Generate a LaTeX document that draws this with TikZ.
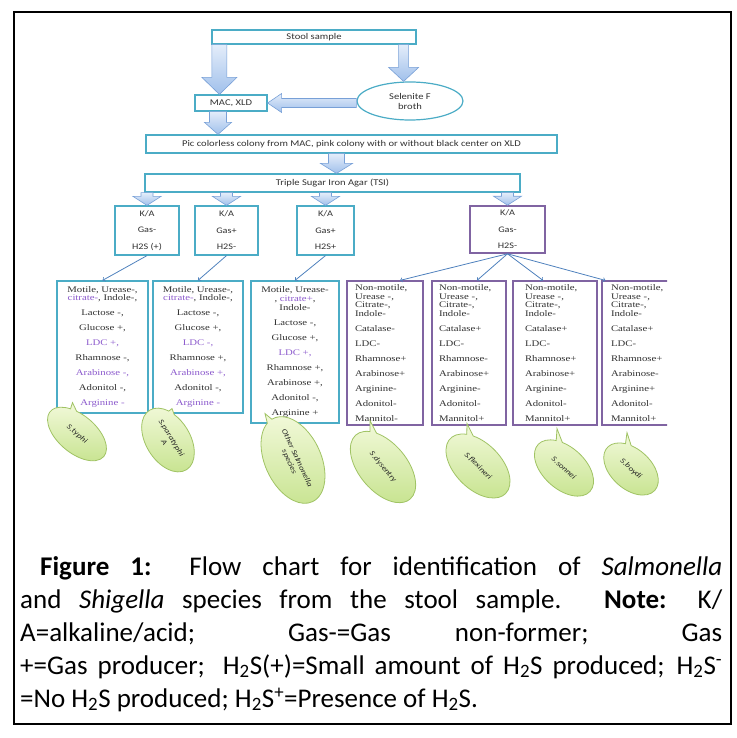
\documentclass[tikz,border=0pt]{standalone}
\usepackage{fontspec}
\setmainfont{Carlito}
\newfontfamily\calibw[FakeStretch=1.2]{Carlito}
\newfontfamily\timesw[FakeStretch=1.25]{Liberation Serif}
\usetikzlibrary{arrows,calc,shapes.geometric,shapes.callouts}

\definecolor{aqua}{RGB}{75,172,198}
\definecolor{violet2}{RGB}{128,100,162}
\definecolor{pur}{RGB}{140,90,205}
\definecolor{txt}{RGB}{50,50,50}
\definecolor{arrowblue}{RGB}{79,129,189}
\definecolor{blockedge}{RGB}{120,160,215}
\definecolor{blocktop}{RGB}{228,237,250}
\definecolor{blockbot}{RGB}{160,192,235}
\definecolor{leafedge}{RGB}{160,195,100}
\definecolor{leaftop}{RGB}{242,249,218}
\definecolor{leafbot}{RGB}{200,228,145}

% fat arrows: shaft half, head half, head length, from, to
\newcommand{\downblock}[5]{%
  \path[block] let \p1=#4, \p2=#5 in
    (\x1-#1pt,\y1) -- (\x1+#1pt,\y1) -- (\x1+#1pt,\y2+#3pt) -- (\x1+#2pt,\y2+#3pt)
    -- (\x1,\y2) -- (\x1-#2pt,\y2+#3pt) -- (\x1-#1pt,\y2+#3pt) -- cycle;}
\newcommand{\leftblock}[5]{%
  \path[block] let \p1=#4, \p2=#5 in
    (\x1,\y1+#1pt) -- (\x1,\y1-#1pt) -- (\x2+#3pt,\y1-#1pt) -- (\x2+#3pt,\y1-#2pt)
    -- (\x2,\y1) -- (\x2+#3pt,\y1+#2pt) -- (\x2+#3pt,\y1+#1pt) -- cycle;}
\newcommand{\nl}{\\[6.4pt]}

\begin{document}
\begin{tikzpicture}
    [
      x=1pt, y=-1pt,
      flowbox/.style={rectangle,draw=aqua,line width=1.2pt,fill=white,inner sep=0pt,align=center,text=txt,font=\calibw\fontsize{8.8}{10}\selectfont},
      flowoval/.style={flowbox,ellipse},
      kabox/.style={flowbox,font=\calibw\fontsize{8.5}{16.5}\selectfont},
      testbox/.style={rectangle,draw=aqua,line width=1.2pt,fill=white,inner xsep=4pt,inner ysep=0pt,align=center,text=txt,font=\timesw\fontsize{8.6}{8.6}\selectfont},
      shigbox/.style={testbox,draw=violet2,align=left,text width=60pt},
      bubble/.style={ellipse callout,draw=leafedge,line width=0.8pt,top color=leaftop,bottom color=leafbot,callout pointer arc=12,inner sep=0pt,align=center,text=black!85,font=\calibw\itshape\fontsize{7.5}{8.5}\selectfont},
      block/.style={draw=blockedge,line width=0.6pt,top color=blocktop,bottom color=blockbot},
      feed/.style={->,>=to,draw=arrowblue,line width=0.8pt},
    ]

    \useasboundingbox (0,0) rectangle (736,738);
    \draw [line width=1.2pt] (14,12) rectangle (731,724);

    \node (stool) [flowbox,minimum width=204pt,minimum height=14pt] at (314,37) {Stool sample};
    \node (mac) [flowbox,minimum width=72pt,minimum height=16pt] at (231,103) {MAC, XLD};
    \node (sel) [flowoval,minimum width=106pt,minimum height=38pt] at (410,101) {Selenite F\\broth};
    \node (pic) [flowbox,minimum width=411pt,minimum height=18pt] at (351.5,144) {Pic colorless colony from MAC, pink colony with or without black center on XLD};
    \node (tsi) [flowbox,minimum width=375pt,minimum height=18pt] at (332.5,183) {Triple Sugar Iron Agar (TSI)};

    \node (ka1) [kabox,minimum width=64pt,minimum height=49pt] at (147,230.5) {K/A\\Gas-\\H2S (+)};
    \node (ka2) [kabox,minimum width=63pt,minimum height=49pt] at (226.5,230.5) {K/A\\Gas+\\H2S-};
    \node (ka3) [kabox,minimum width=57pt,minimum height=49pt] at (325.5,230.5) {K/A\\Gas+\\H2S+};
    \node (ka4) [kabox,draw=violet2,line width=1.6pt,minimum width=75pt,minimum height=47pt] at (507.5,229.5) {K/A\\Gas-\\H2S-};

    \coordinate (s1) at ([xshift=8pt]stool.south west);
    \coordinate (s2) at ([xshift=-13pt]stool.south east);
    \coordinate (m1) at ([xshift=-13pt]mac.south);
    \coordinate (p1) at ([xshift=-15pt]pic.south);
    \downblock{7.5}{17.5}{17}{(s1)}{(s1 |- mac.north)}
    \downblock{5}{15}{14}{(s2)}{(s2 |- sel.north)}
    \leftblock{4.5}{9.5}{14}{(sel.west |- mac.east)}{(mac.east)}
    \downblock{8.5}{13.5}{12}{(m1)}{(m1 |- pic.north)}
    \downblock{8}{16}{10}{(p1)}{(p1 |- tsi.north)}
    \foreach \k in {ka1,ka2,ka3,ka4}
      \downblock{6}{14}{9}{(\k.north |- tsi.south)}{(\k.north)};

    \node (boxA) [testbox,minimum width=91pt,minimum height=132pt] at (102.5,347)
      {Motile, Urease-,\\\textcolor{pur}{citrate-}, Indole-,\nl Lactose -,\nl Glucose +,\nl \textcolor{pur}{LDC +,}\nl Rhamnose -,\nl \textcolor{pur}{Arabinose -,}\nl Adonitol -,\nl \textcolor{pur}{Arginine -}};
    \node (boxB) [testbox,minimum width=90pt,minimum height=132pt] at (198,347)
      {Motile, Urease-,\\\textcolor{pur}{citrate-}, Indole-,\nl Lactose -,\nl Glucose +,\nl \textcolor{pur}{LDC -,}\nl Rhamnose +,\nl \textcolor{pur}{Arabinose +,}\nl Adonitol -,\nl \textcolor{pur}{Arginine -}};
    \node (boxC) [testbox,minimum width=88pt,minimum height=142pt] at (295,352)
      {Motile, Urease-\\, \textcolor{pur}{citrate+},\\Indole-\nl Lactose -,\nl Glucose +,\nl \textcolor{pur}{LDC +,}\nl Rhamnose +,\nl Arabinose +,\nl Adonitol -,\nl Arginine +};
    \node (boxD) [shigbox,minimum width=76pt,minimum height=144pt] at (385,353)
      {Non-motile,\\Urease -,\\Citrate-,\\Indole-\nl Catalase-\nl LDC-\nl Rhamnose+\nl Arabinose+\nl Arginine-\nl Adonitol-\nl Mannitol-};
    \node (boxE) [shigbox,minimum width=74pt,minimum height=144pt] at (469,353)
      {Non-motile,\\Urease -,\\Citrate-,\\Indole-\nl Catalase+\nl LDC-\nl Rhamnose-\nl Arabinose+\nl Arginine-\nl Adonitol-\nl Mannitol+};
    \node (boxF) [shigbox,minimum width=84pt,minimum height=144pt] at (555,353)
      {Non-motile,\\Urease -,\\Citrate-,\\Indole-\nl Catalase+\nl LDC-\nl Rhamnose+\nl Arabinose+\nl Arginine-\nl Adonitol-\nl Mannitol+};
    \begin{scope}
      \clip (590,270) rectangle (667,440);
      \node (boxG) [shigbox,minimum width=78pt,minimum height=144pt] at (641,353)
        {Non-motile,\\Urease -,\\Citrate-,\\Indole-\nl Catalase+\nl LDC-\nl Rhamnose+\nl Arabinose-\nl Arginine+\nl Adonitol-\nl Mannitol+};
    \end{scope}

    \path
    (ka1.south) edge [feed] (boxA.north)
    (ka2.south) edge [feed] (boxB.north)
    (ka3.south) edge [feed] (boxC.north)
    (ka4.south) edge [feed] ([xshift=15pt]boxD.north)
    (ka4.south) edge [feed] ([xshift=8pt]boxE.north)
    (ka4.south) edge [feed] ([xshift=-12pt]boxF.north)
    (ka4.south) edge [feed] ([xshift=4pt]boxG.north west)
    ;

    \node (typhi) [bubble,callout absolute pointer={($(boxA.south)+(-30,-11)$)},minimum width=70pt,minimum height=38pt,rotate=-40] at (77,434) {S.typhi};
    \node (paratyphi) [bubble,callout absolute pointer={($(boxB.south)+(-26,-5)$)},minimum width=70pt,minimum height=44pt,rotate=-58] at (168,440) {S.paratyphi\\A};
    \node (othersal) [bubble,callout absolute pointer={($(boxC.south)+(-30,-10)$)},minimum width=92pt,minimum height=56pt,rotate=-65] at (293,460) {Other Salmonella\\species};
    \node (dysentry) [bubble,callout absolute pointer={($(boxD.south)+(-15,-5)$)},minimum width=84pt,minimum height=48pt,rotate=-50] at (383,467) {S.dysentry};
    \node (flexineri) [bubble,callout absolute pointer={($(boxE.south)+(-2,-2)$)},minimum width=78pt,minimum height=46pt,rotate=-45] at (478,466) {S.flexineri};
    \node (sonnei) [bubble,callout absolute pointer={($(boxF.south)+(2,3)$)},minimum width=70pt,minimum height=42pt,rotate=-42] at (564,468) {S.sonnei};
    \node (boydi) [bubble,callout absolute pointer={($(boxG.south)+(-14,7)$)},minimum width=64pt,minimum height=40pt,rotate=-42] at (631,469) {S.boydi};

    \node (caption) [anchor=north west,text width=702pt,align=justify,inner sep=0pt,font=\fontsize{27}{33}\selectfont] at (20,556)
      {\hspace*{20pt}\textbf{Figure 1:} Flow chart for identification of \textit{Salmonella}\linebreak
       and \textit{Shigella} species from the stool sample. \textbf{Note:} K/\linebreak
       A=alkaline/acid; Gas-=Gas non-former; Gas\linebreak
       +=Gas producer;\hspace{6pt} H\textsubscript{2}S(+)=Small amount of H\textsubscript{2}S produced; H\textsubscript{2}S\textsuperscript{-}\linebreak
       =No H\textsubscript{2}S produced; H\textsubscript{2}S\textsuperscript{+}=Presence of H\textsubscript{2}S.};

  \end{tikzpicture}
\end{document}
